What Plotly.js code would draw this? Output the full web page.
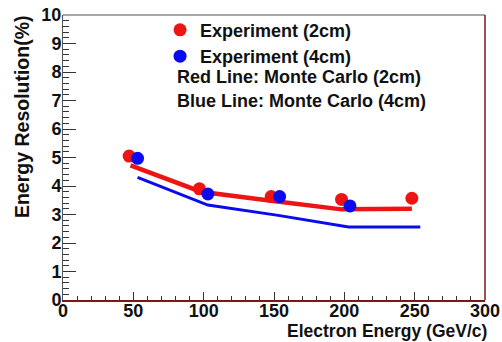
<!DOCTYPE html>
<html><head><meta charset="utf-8">
<script src="https://cdn.plot.ly/plotly-3.0.1.min.js"></script>
<style>html,body{margin:0;padding:0;background:#fff}</style>
</head><body><div id="chart" style="width:502px;height:342px"></div>
<script>
const expX2 = [47, 97, 148, 198, 248];
const expY2 = [5.05, 3.9, 3.63, 3.53, 3.57];
const expX4 = [53, 103, 154, 204];
const expY4 = [4.97, 3.72, 3.63, 3.3];
const mcX2 = [48, 98, 148, 198, 248];
const mcY2 = [4.72, 3.8, 3.48, 3.18, 3.2];
const mcX4 = [53, 103, 153, 203, 254];
const mcY4 = [4.3, 3.33, 2.97, 2.56, 2.56];
const xTicks = [0, 50, 100, 150, 200, 250, 300];
const yTicks = [0,1,2,3,4,5,6,7,8,9,10];

const RED = 'rgb(238,20,20)', BLUE = 'rgb(10,10,238)';
const F = 'Liberation Sans, Arial, sans-serif';

const traces = [
  {x: mcX2, y: mcY2, mode: 'lines', line: {color: RED, width: 4.5}, showlegend: false},
  {x: mcX4, y: mcY4, mode: 'lines', line: {color: BLUE, width: 3}, showlegend: false},
  {x: expX2, y: expY2, mode: 'markers', name: 'Experiment (2cm)', legendgroup: 'a',
   marker: {color: RED, size: 13}},
  {x: expX4, y: expY4, mode: 'markers', name: 'Experiment (4cm)', legendgroup: 'b',
   marker: {color: BLUE, size: 13}}
];

const layout = {
  width: 502, height: 342,
  margin: {l: 63, r: 17, t: 15, b: 42, autoexpand: false},
  paper_bgcolor: '#fff', plot_bgcolor: '#fff',
  font: {family: F, color: '#000'},
  showlegend: true,
  legend: {x: 0.23, y: 1.012, xanchor: 'left', yanchor: 'top', bgcolor: 'rgba(0,0,0,0)',
    font: {family: F, size: 18, weight: 'bold', color: '#111'},
    traceorder: 'grouped', tracegroupgap: 0, itemwidth: 30},
  xaxis: {range: [0, 300], tickvals: xTicks, ticktext: xTicks.map(String),
    ticks: 'inside', ticklen: 8, tickcolor: '#333', tickwidth: 1,
    minor: {dtick: 10, tick0: 0, ticks: 'inside', ticklen: 4, tickcolor: '#333', showgrid: false},
    showgrid: false, zeroline: false, showline: true, linecolor: 'rgb(130,20,20)', linewidth: 1.5,
    ticklabelstandoff: -6, automargin: false,
    tickfont: {family: F, size: 18, weight: 'bold', color: '#111'}, fixedrange: true},
  yaxis: {range: [0, 10], tickvals: yTicks, ticktext: yTicks.map(String),
    ticks: 'inside', ticklen: 13, tickcolor: '#333', tickwidth: 1,
    minor: {dtick: 0.2, tick0: 0, ticks: 'inside', ticklen: 6, tickcolor: '#333', showgrid: false},
    showgrid: false, zeroline: false, showline: true, linecolor: '#555', linewidth: 1,
    ticklabelstandoff: -3, automargin: false,
    tickfont: {family: F, size: 18, weight: 'bold', color: '#111'}, fixedrange: true},
  shapes: [
    {type: 'line', xref: 'paper', yref: 'paper', x0: 0, x1: 1, y0: 1, y1: 1, line: {color: '#888', width: 1.5}},
    {type: 'line', xref: 'paper', yref: 'paper', x0: 1, x1: 1, y0: 0, y1: 1, line: {color: 'rgb(130,20,20)', width: 1.5}}
  ],
  annotations: [
    {text: 'Red Line: Monte Carlo (2cm)', xref: 'paper', yref: 'paper', x: (175-63)/422, y: (300-77)/285,
     xanchor: 'left', yanchor: 'middle', showarrow: false, font: {family: F, size: 18, weight: 'bold', color: '#111'}},
    {text: 'Blue Line: Monte Carlo (4cm)', xref: 'paper', yref: 'paper', x: (175-63)/422, y: (300-101)/285,
     xanchor: 'left', yanchor: 'middle', showarrow: false, font: {family: F, size: 18, weight: 'bold', color: '#111'}},
    {text: 'Energy Resolution(%)', xref: 'paper', yref: 'paper', x: (22-63)/422, y: 1.005, textangle: -90,
     xanchor: 'center', yanchor: 'top', showarrow: false, font: {family: F, size: 19.5, weight: 'bold', color: '#111'}},
    {text: 'Electron Energy (GeV/c)', xref: 'paper', yref: 'paper', x: (488-63)/422, y: (300-342)/285,
     xanchor: 'right', yanchor: 'bottom', showarrow: false, borderpad: 0,
     font: {family: F, size: 17.5, weight: 'bold', color: '#111'}}
  ]
};
Plotly.newPlot('chart', traces, layout, {displayModeBar: false, staticPlot: true});
</script></body></html>
